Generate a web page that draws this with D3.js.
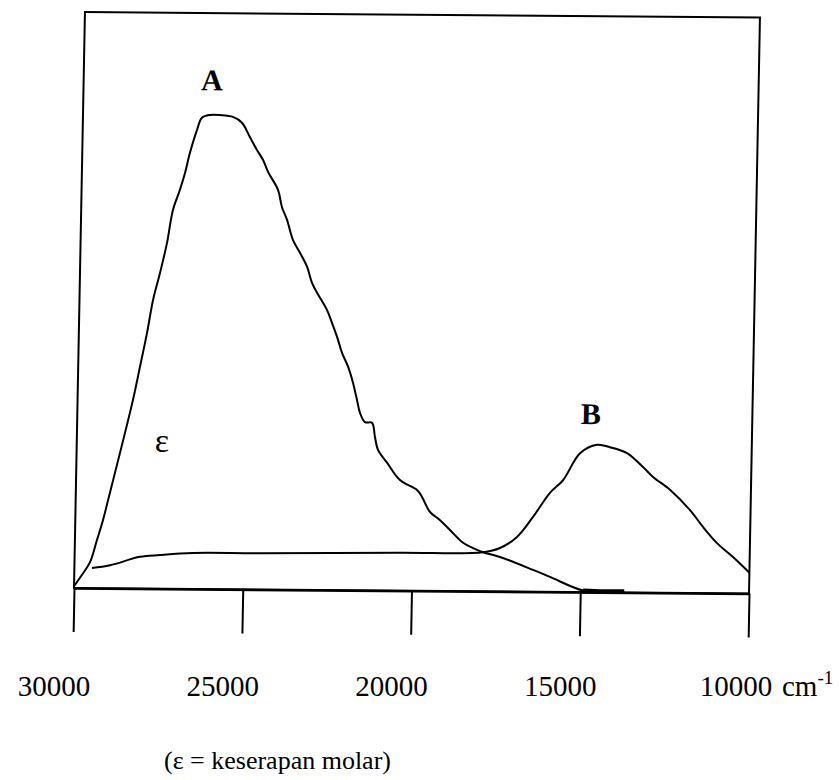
<!DOCTYPE html>
<html>
<head>
<meta charset="utf-8">
<script src="https://cdn.jsdelivr.net/npm/d3@7"></script>
<style>
  body { margin: 0; background: #fff; }
</style>
</head>
<body>
<div id="chart"></div>
<script>
// wavenumber ticks (cm-1)
const tickValues = [30000, 25000, 20000, 15000, 10000];

// band A (charge transfer), epsilon in relative units (frame top = 100)
const bandA_nu = [30000, 29770, 29540, 29345, 29180, 29040, 28360, 28170, 27980, 27820, 27630, 27440, 27280, 27085, 26945, 26810, 26613, 26474, 26237, 25940, 25555, 25286, 25040, 24827, 24643, 24486, 24180, 24053, 23896, 23707, 23493, 23277, 23120, 22966, 22660, 22506, 22350, 22192, 22006, 21849, 21720, 21626, 21472, 21265, 21168, 21072, 20797, 20403, 19893, 19742, 19496, 19194, 18894, 18500, 18200, 17902, 17400, 16411, 15905, 14918, 14300, 13700];
const bandA_eps = [0.3, 2.3, 4.5, 8.4, 11.8, 15.3, 32.7, 38.5, 44.4, 50.1, 54.8, 60.0, 65.8, 69.3, 72.2, 75.7, 79.7, 81.8, 82.3, 82.3, 82.0, 81.0, 78.5, 76.3, 74.6, 72.5, 69.4, 66.4, 64.2, 60.7, 58.5, 56.1, 53.3, 51.6, 48.6, 46.4, 44.0, 41.2, 38.8, 36.0, 33.0, 30.8, 29.2, 29.1, 26.6, 24.4, 22.2, 19.2, 17.5, 16.3, 13.7, 12.3, 10.6, 8.4, 7.5, 6.8, 6.0, 3.8, 2.6, 0.3, 0.2, 0.2];

// band B (d-d)
const bandB_nu = [29478, 28945, 28062, 27470, 26495, 24510, 20362, 17902, 17403, 16904, 16441, 15953, 15573, 15084, 14586, 14201, 13694, 13211, 12909, 12400, 11795, 11401, 10977, 10494, 10000];
const bandB_eps = [3.5, 4.0, 5.5, 5.85, 6.25, 6.3, 6.6, 6.8, 7.55, 9.5, 13.0, 17.2, 19.4, 24.1, 25.6, 25.2, 24.2, 21.8, 20.1, 17.9, 14.4, 11.5, 8.7, 6.3, 3.6];

const width = 839, height = 780;
const plotW = 675, plotH = 576;
const origin = { x: 74, y: 588 };
const shearX = -0.019, shearY = 0.0082; // the scan is slightly skewed
const serif = '"Liberation Serif", "Times New Roman", Times, serif';

const svg = d3.select('#chart')
  .append('svg')
  .attr('width', width)
  .attr('height', height)
  .attr('font-family', serif);

const x = d3.scaleLinear().domain([30000, 10000]).range([0, plotW]);
const y = d3.scaleLinear().domain([0, 100]).range([0, -plotH]);

const plot = svg.append('g')
  .attr('transform', `matrix(1, ${shearY}, ${shearX}, 1, ${origin.x}, ${origin.y})`);

// frame
plot.append('rect')
  .attr('x', x(30000))
  .attr('y', y(100))
  .attr('width', x(10000) - x(30000))
  .attr('height', y(0) - y(100))
  .attr('fill', 'none')
  .attr('stroke', '#000')
  .attr('stroke-width', 2);

// axis with long ticks, labels drawn separately
const axis = plot.append('g')
  .call(d3.axisBottom(x).tickValues(tickValues).tickSize(44).tickSizeOuter(0).tickFormat(''));
axis.select('.domain').attr('stroke', '#000').attr('stroke-width', 2.5);
axis.selectAll('.tick line').attr('stroke', '#000').attr('stroke-width', 2);

const line = d3.line()
  .x(d => x(d[0]))
  .y(d => y(d[1]))
  .curve(d3.curveCatmullRom);

plot.append('path')
  .datum(d3.zip(bandA_nu, bandA_eps))
  .attr('d', line)
  .attr('fill', 'none')
  .attr('stroke', '#000')
  .attr('stroke-width', 2);

// heavier stretch where band A runs along the axis
plot.append('path')
  .datum(d3.zip(bandA_nu, bandA_eps).filter(d => d[0] <= 14918))
  .attr('d', line)
  .attr('fill', 'none')
  .attr('stroke', '#000')
  .attr('stroke-width', 4);

plot.append('path')
  .datum(d3.zip(bandB_nu, bandB_eps))
  .attr('d', line)
  .attr('fill', 'none')
  .attr('stroke', '#000')
  .attr('stroke-width', 2);

// band letters
plot.append('text')
  .attr('x', x(26200)).attr('y', y(86.6))
  .attr('text-anchor', 'middle')
  .style('font-size', '30px').style('font-weight', 'bold')
  .text('A');

plot.append('text')
  .attr('x', x(14780)).attr('y', y(29.2))
  .attr('text-anchor', 'middle')
  .style('font-size', '30px').style('font-weight', 'bold')
  .text('B');

// tick labels (sit a little left of their ticks, as in the original)
const labelShift = d => (d === 10000 ? -13 : -20);
const labels = svg.append('g')
  .attr('transform', `translate(${origin.x}, 696)`);

labels.selectAll('text.tl')
  .data(tickValues)
  .enter()
  .append('text')
  .attr('class', 'tl')
  .attr('x', d => x(d) + labelShift(d))
  .attr('text-anchor', 'middle')
  .style('font-size', '29px')
  .text(d => d);

const unit = labels.append('text')
  .attr('x', x(10000) + labelShift(10000) + 46)
  .style('font-size', '29px');
unit.append('tspan').text('cm');
unit.append('tspan').attr('dy', -12).style('font-size', '19px').text('-1');

// y label
svg.append('text')
  .attr('x', 162).attr('y', 452)
  .attr('text-anchor', 'middle')
  .style('font-size', '34px')
  .text('ε');

svg.append('text')
  .attr('x', 164).attr('y', 769)
  .style('font-size', '26px')
  .text('(ε = keserapan molar)');
</script>
</body>
</html>
